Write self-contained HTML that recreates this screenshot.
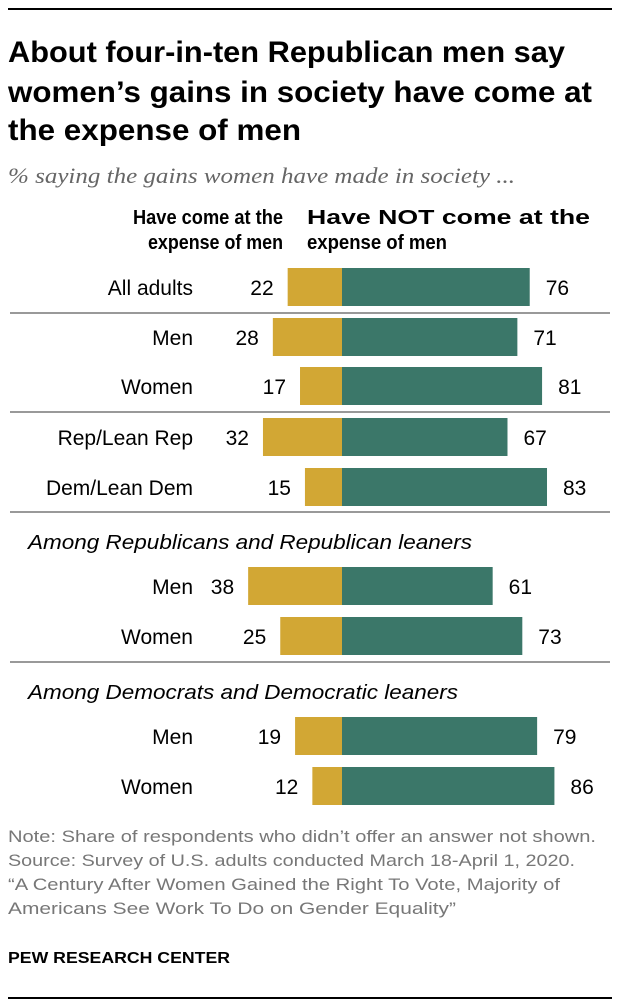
<!DOCTYPE html>
<html><head><meta charset="utf-8"><style>
body{margin:0;background:#fff;}
svg{display:block;font-family:"Liberation Sans",Arial,sans-serif;}
</style></head><body>
<svg id="chart" width="620" height="1008">
<line x1="8" y1="9" x2="612" y2="9" stroke="#000" stroke-width="2"/>
<g font-weight="bold" font-size="30" fill="#000">
<text x="8" y="62" textLength="557" lengthAdjust="spacingAndGlyphs">About four-in-ten Republican men say</text>
<text x="8" y="102" textLength="584" lengthAdjust="spacingAndGlyphs">women’s gains in society have come at</text>
<text x="8" y="140" textLength="293" lengthAdjust="spacingAndGlyphs">the expense of men</text>
</g>
<text x="8" y="183" font-family="Liberation Serif,serif" font-style="italic" font-size="22" fill="#666" textLength="507" lengthAdjust="spacingAndGlyphs">% saying the gains women have made in society ...</text>
<g font-weight="bold" font-size="20">
<text x="283" y="224" text-anchor="end" textLength="150" lengthAdjust="spacingAndGlyphs">Have come at the</text>
<text x="283" y="249" text-anchor="end" textLength="135" lengthAdjust="spacingAndGlyphs">expense of men</text>
<text x="307" y="224" textLength="283" lengthAdjust="spacingAndGlyphs">Have NOT come at the</text>
<text x="307" y="249" textLength="140" lengthAdjust="spacingAndGlyphs">expense of men</text>
</g>
<g id="rules"></g>
<g id="bars"></g>
<g font-size="17" fill="#777">
<text x="8" y="842" textLength="588" lengthAdjust="spacingAndGlyphs">Note: Share of respondents who didn’t offer an answer not shown.</text>
<text x="8" y="866" textLength="567" lengthAdjust="spacingAndGlyphs">Source: Survey of U.S. adults conducted March 18-April 1, 2020.</text>
<text x="8" y="890" textLength="552" lengthAdjust="spacingAndGlyphs">“A Century After Women Gained the Right To Vote, Majority of</text>
<text x="8" y="914" textLength="448" lengthAdjust="spacingAndGlyphs">Americans See Work To Do on Gender Equality”</text>
</g>
<text x="8" y="963" font-weight="bold" font-size="16" textLength="222" lengthAdjust="spacingAndGlyphs">PEW RESEARCH CENTER</text>
<line x1="8" y1="998" x2="612" y2="998" stroke="#000" stroke-width="2"/>
</svg>
<script>
const categories=["All adults","Men","Women","Rep/Lean Rep","Dem/Lean Dem","Men","Women","Men","Women"];
const haveCome=[22,28,17,32,15,38,25,19,12];
const haveNotCome=[76,71,81,67,83,61,73,79,86];
const rowY=[287,337,386,437,487,586,636,736,786];
const groupLabels=["Among Republicans and Republican leaners","Among Democrats and Democratic leaners"];
const NS="http://www.w3.org/2000/svg";
const cx=342, k=2.47, bh=38;
const x=v=>v*k;
const bars=document.getElementById('bars'), rules=document.getElementById('rules');
function mk(tag,attrs,parent){const e=document.createElementNS(NS,tag);for(const a in attrs)e.setAttribute(a,attrs[a]);parent.appendChild(e);return e;}
[313,412,512,662].forEach(y=>{
 const l=mk('line',{x1:10,x2:610,y1:y,y2:y,stroke:'#999','stroke-width':2},rules);
 
 
});
[[8,549,444],[8,699,430]].forEach((p,i)=>{
 const t=mk('text',{x:p[0]+20,y:p[1],'font-size':20,'font-style':'italic',textLength:p[2],lengthAdjust:'spacingAndGlyphs'},rules);
 t.textContent=groupLabels[i];
 
 
});
categories.forEach((c,i)=>{
 const y=rowY[i];
 const lab=mk('text',{x:193,y:y+8,'text-anchor':'end','font-size':21},bars);
 lab.textContent=c;
 
 
 const w1=x(haveCome[i]);
 const b1=mk('rect',{x:cx-w1,y:y-bh/2,width:w1,height:bh,fill:'#d2a734'},bars);
 
 
 const w2=x(haveNotCome[i]);
 const b2=mk('rect',{x:cx,y:y-bh/2,width:w2,height:bh,fill:'#3b7769'},bars);
 
 
 const v1=mk('text',{x:cx-w1-14,y:y+8,'text-anchor':'end','font-size':21},bars);
 v1.textContent=haveCome[i];
 
 
 const v2=mk('text',{x:cx+w2+16,y:y+8,'font-size':21},bars);
 v2.textContent=haveNotCome[i];
 
 
});
</script>
</body></html>
